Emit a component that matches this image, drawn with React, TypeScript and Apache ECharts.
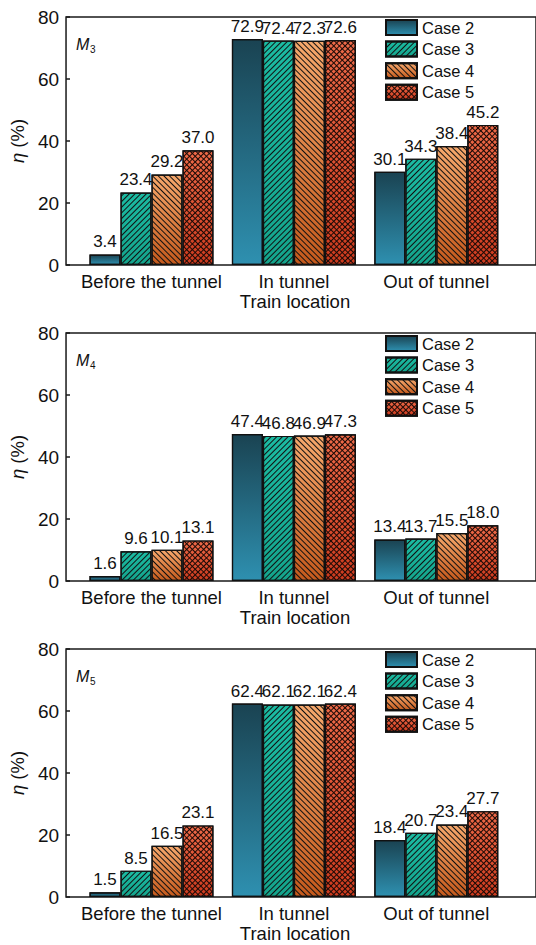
import React, { useEffect, useRef } from 'react';
import * as echarts from 'echarts';

const categories = ['Before the tunnel', 'In tunnel', 'Out of tunnel'];
const categoryPositions = [1, 2, 3];
const caseNames = ['Case 2', 'Case 3', 'Case 4', 'Case 5'];
const panelSubscripts = ['3', '4', '5'];

// M3 panel
const m3Case2 = [3.4, 72.9, 30.1];
const m3Case3 = [23.4, 72.4, 34.3];
const m3Case4 = [29.2, 72.3, 38.4];
const m3Case5 = [37.0, 72.6, 45.2];
// M4 panel
const m4Case2 = [1.6, 47.4, 13.4];
const m4Case3 = [9.6, 46.8, 13.7];
const m4Case4 = [10.1, 46.9, 15.5];
const m4Case5 = [13.1, 47.3, 18.0];
// M5 panel
const m5Case2 = [1.5, 62.4, 18.4];
const m5Case3 = [8.5, 62.1, 20.7];
const m5Case4 = [16.5, 62.1, 23.4];
const m5Case5 = [23.1, 62.4, 27.7];

const panels = [
  [m3Case2, m3Case3, m3Case4, m3Case5],
  [m4Case2, m4Case3, m4Case4, m4Case5],
  [m5Case2, m5Case3, m5Case4, m5Case5],
];

const yMin = 0;
const yMax = 80;
const yInterval = 20;

const FONT = '"Liberation Sans", Arial, sans-serif';
const panelTops = [17, 333, 649];
const panelHeight = 248;

const grad = (top: string, bottom: string) => ({
  type: 'linear',
  x: 0,
  y: 0,
  x2: 0,
  y2: 1,
  colorStops: [
    { offset: 0, color: top },
    { offset: 1, color: bottom },
  ],
});

const caseStyles = [
  {
    color: grad('#1a4352', '#2e90b0'),
    decal: { color: 'rgba(0,0,0,0)', symbol: 'rect' },
  },
  {
    color: grad('#1bbba2', '#14a48c'),
    decal: {
      symbol: 'rect',
      symbolSize: 1,
      color: '#111',
      dashArrayX: [1, 0],
      dashArrayY: [1, 3],
      rotation: -Math.PI / 4,
    },
  },
  {
    color: grad('#f6a86c', '#c4591c'),
    decal: {
      symbol: 'rect',
      symbolSize: 1,
      color: '#111',
      dashArrayX: [1, 0],
      dashArrayY: [1, 3],
      rotation: Math.PI / 4,
    },
  },
  {
    color: grad('#ee6a48', '#cc3a1e'),
    decal: {
      symbol: 'rect',
      symbolSize: 1,
      color: '#1a0a06',
      dashArrayX: [[1, 0], [1, 3]],
      dashArrayY: [1, 0, 3, 0],
      rotation: Math.PI / 4,
    },
  },
];

export default function App() {
  const ref = useRef<HTMLDivElement>(null);

  useEffect(() => {
    if (!ref.current) return;
    const chart = echarts.init(ref.current, null, { renderer: 'svg' });

    const grids: any[] = [];
    const xAxes: any[] = [];
    const yAxes: any[] = [];
    const legends: any[] = [];
    const series: any[] = [];
    const graphics: any[] = [];

    panels.forEach((panel, p) => {
      const top = panelTops[p];
      grids.push({
        left: 63,
        top,
        width: 476,
        height: panelHeight,
        show: true,
        borderColor: '#1a1a1a',
        borderWidth: 1.5,
        backgroundColor: 'transparent',
      });
      xAxes.push({
        type: 'value',
        gridIndex: p,
        min: 0.4,
        max: 3.7,
        splitLine: { show: false },
        axisLine: { show: false },
        axisTick: { show: false },
        axisLabel: {
          customValues: categoryPositions,
          formatter: (v: number) => categories[Math.round(v) - 1] ?? '',
          fontSize: 18.5,
          fontFamily: FONT,
          color: '#111',
          margin: 7,
        },
        name: 'Train location',
        nameLocation: 'middle',
        nameGap: 27,
        nameTextStyle: {
          fontSize: 18.5,
          fontFamily: FONT,
          color: '#111',
          padding: [0, 12, 0, 0],
        },
      });
      yAxes.push({
        type: 'value',
        gridIndex: p,
        min: yMin,
        max: yMax,
        interval: yInterval,
        splitLine: { show: false },
        axisLine: { show: false },
        axisTick: { show: true, inside: true, length: 4, lineStyle: { color: '#1a1a1a', width: 1.5 } },
        axisLabel: {
          fontSize: 19,
          fontFamily: FONT,
          color: '#111',
          margin: 7,
        },
        name: '{e|η} (%)',
        nameLocation: 'middle',
        nameGap: 36,
        nameRotate: 90,
        nameTextStyle: {
          fontSize: 18.5,
          fontFamily: FONT,
          color: '#111',
          rich: {
            e: { fontSize: 18.5, fontFamily: FONT, fontStyle: 'italic', color: '#111' },
          },
        },
      });
      legends.push({
        data: caseNames,
        orient: 'vertical',
        left: 385,
        top: top + 2,
        icon: 'rect',
        itemWidth: 31,
        itemHeight: 15,
        itemGap: 4.6,
        padding: 0,
        textStyle: { fontSize: 16.5, fontFamily: FONT, color: '#111' },
      });
      panel.forEach((vals, c) => {
        series.push({
          type: 'bar',
          name: caseNames[c],
          xAxisIndex: p,
          yAxisIndex: p,
          barWidth: 31,
          barGap: '0%',
          data: categoryPositions.map((x, k) => [x, vals[k]]),
          itemStyle: {
            color: caseStyles[c].color,
            borderColor: '#111',
            borderWidth: 1.2,
            decal: caseStyles[c].decal,
          },
          label: {
            show: true,
            position: 'top',
            distance: 4,
            fontSize: 17,
            fontFamily: FONT,
            color: '#111',
            formatter: (prm: any) => Number(prm.value[1]).toFixed(1),
          },
        });
      });
      graphics.push({
        type: 'text',
        left: 76,
        top: top + 19,
        style: { text: 'M', font: `italic 16px ${FONT}`, fill: '#111' },
      });
      graphics.push({
        type: 'text',
        left: 90,
        top: top + 27,
        style: { text: panelSubscripts[p], font: `10px ${FONT}`, fill: '#111' },
      });
    });

    chart.setOption({
      animation: false,
      backgroundColor: '#fff',
      aria: { enabled: true, decal: { show: true } },
      grid: grids,
      xAxis: xAxes,
      yAxis: yAxes,
      legend: legends,
      series,
      graphic: graphics,
    });

    return () => chart.dispose();
  }, []);

  return (
    <div
      ref={ref}
      style={{ position: 'absolute', left: 0, top: 0, width: 536, height: 945 }}
    />
  );
}
